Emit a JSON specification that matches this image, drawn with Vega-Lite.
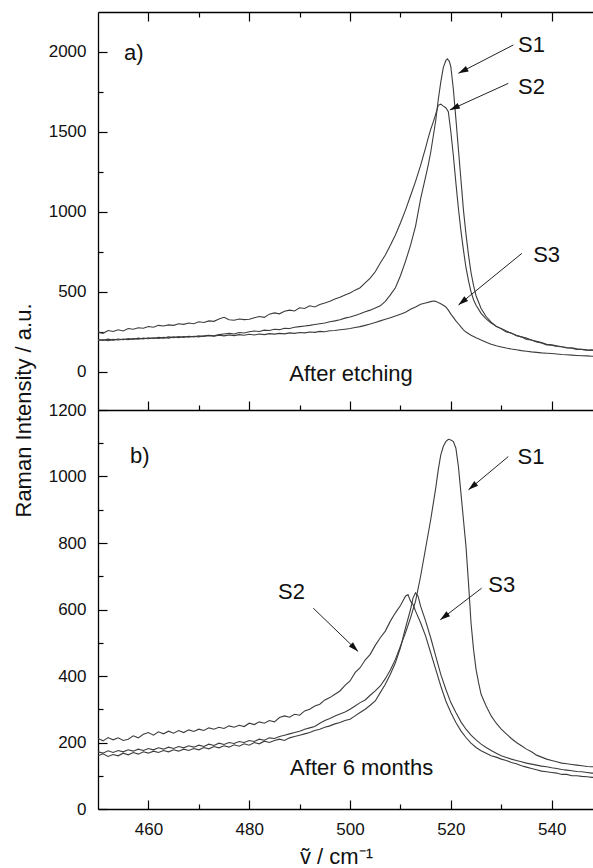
{
"$schema": "https://vega.github.io/schema/vega-lite/v6.json",
"padding": {"left": 12, "top": 11, "right": 0, "bottom": 0},
"bounds": "flush",
"spacing": 0,
"config": {
  "view": {"stroke": null},
  "font": "Liberation Sans",
  "axis": {"domainColor": "#000", "tickColor": "#000", "labelColor": "#111", "titleColor": "#111", "labelFont": "Liberation Sans", "titleFont": "Liberation Sans", "labelFontSize": 17, "grid": false, "domainWidth": 1.3, "tickWidth": 1.2, "titleFontWeight": "normal", "labelFlush": false, "labelOverlap": false}
},
"datasets": {
  "spectra": [
{"p":"a","s":"S2","x":450,"y":248},{"p":"a","s":"S2","x":451,"y":240},{"p":"a","s":"S2","x":452,"y":258},{"p":"a","s":"S2","x":453,"y":252},{"p":"a","s":"S2","x":454,"y":262},{"p":"a","s":"S2","x":455,"y":255},{"p":"a","s":"S2","x":456,"y":270},{"p":"a","s":"S2","x":457,"y":266},{"p":"a","s":"S2","x":458,"y":275},{"p":"a","s":"S2","x":459,"y":272},{"p":"a","s":"S2","x":460,"y":283},{"p":"a","s":"S2","x":461,"y":278},{"p":"a","s":"S2","x":462,"y":290},{"p":"a","s":"S2","x":463,"y":286},{"p":"a","s":"S2","x":464,"y":293},{"p":"a","s":"S2","x":465,"y":290},{"p":"a","s":"S2","x":466,"y":300},{"p":"a","s":"S2","x":467,"y":296},{"p":"a","s":"S2","x":468,"y":305},{"p":"a","s":"S2","x":469,"y":300},{"p":"a","s":"S2","x":470,"y":312},{"p":"a","s":"S2","x":471,"y":308},{"p":"a","s":"S2","x":472,"y":318},{"p":"a","s":"S2","x":473,"y":315},{"p":"a","s":"S2","x":474,"y":330},{"p":"a","s":"S2","x":475,"y":340},{"p":"a","s":"S2","x":476,"y":325},{"p":"a","s":"S2","x":477,"y":322},{"p":"a","s":"S2","x":478,"y":330},{"p":"a","s":"S2","x":479,"y":326},{"p":"a","s":"S2","x":480,"y":328},{"p":"a","s":"S2","x":481,"y":338},{"p":"a","s":"S2","x":482,"y":345},{"p":"a","s":"S2","x":483,"y":340},{"p":"a","s":"S2","x":484,"y":360},{"p":"a","s":"S2","x":485,"y":368},{"p":"a","s":"S2","x":486,"y":362},{"p":"a","s":"S2","x":487,"y":378},{"p":"a","s":"S2","x":488,"y":385},{"p":"a","s":"S2","x":489,"y":380},{"p":"a","s":"S2","x":490,"y":400},{"p":"a","s":"S2","x":491,"y":395},{"p":"a","s":"S2","x":492,"y":412},{"p":"a","s":"S2","x":493,"y":405},{"p":"a","s":"S2","x":494,"y":420},{"p":"a","s":"S2","x":495,"y":430},{"p":"a","s":"S2","x":496,"y":440},{"p":"a","s":"S2","x":497,"y":455},{"p":"a","s":"S2","x":498,"y":465},{"p":"a","s":"S2","x":499,"y":480},{"p":"a","s":"S2","x":500,"y":492},{"p":"a","s":"S2","x":501,"y":510},{"p":"a","s":"S2","x":502,"y":525},{"p":"a","s":"S2","x":503,"y":555},{"p":"a","s":"S2","x":504,"y":585},{"p":"a","s":"S2","x":505,"y":625},{"p":"a","s":"S2","x":506,"y":680},{"p":"a","s":"S2","x":507,"y":730},{"p":"a","s":"S2","x":508,"y":790},{"p":"a","s":"S2","x":509,"y":855},{"p":"a","s":"S2","x":510,"y":930},{"p":"a","s":"S2","x":511,"y":1010},{"p":"a","s":"S2","x":512,"y":1100},{"p":"a","s":"S2","x":513,"y":1190},{"p":"a","s":"S2","x":514,"y":1290},{"p":"a","s":"S2","x":515,"y":1400},{"p":"a","s":"S2","x":515.5,"y":1460},{"p":"a","s":"S2","x":516,"y":1515},{"p":"a","s":"S2","x":516.5,"y":1560},{"p":"a","s":"S2","x":517,"y":1610},{"p":"a","s":"S2","x":517.5,"y":1665},{"p":"a","s":"S2","x":518,"y":1672},{"p":"a","s":"S2","x":518.5,"y":1660},{"p":"a","s":"S2","x":519,"y":1650},{"p":"a","s":"S2","x":519.5,"y":1625},{"p":"a","s":"S2","x":520,"y":1500},{"p":"a","s":"S2","x":520.5,"y":1350},{"p":"a","s":"S2","x":521,"y":1180},{"p":"a","s":"S2","x":521.5,"y":1020},{"p":"a","s":"S2","x":522,"y":880},{"p":"a","s":"S2","x":522.5,"y":760},{"p":"a","s":"S2","x":523,"y":650},{"p":"a","s":"S2","x":523.5,"y":570},{"p":"a","s":"S2","x":524,"y":500},{"p":"a","s":"S2","x":524.5,"y":450},{"p":"a","s":"S2","x":525,"y":415},{"p":"a","s":"S2","x":526,"y":365},{"p":"a","s":"S2","x":527,"y":330},{"p":"a","s":"S2","x":528,"y":305},{"p":"a","s":"S2","x":529,"y":285},{"p":"a","s":"S2","x":530,"y":268},{"p":"a","s":"S2","x":531,"y":248},{"p":"a","s":"S2","x":532,"y":242},{"p":"a","s":"S2","x":533,"y":225},{"p":"a","s":"S2","x":534,"y":218},{"p":"a","s":"S2","x":535,"y":202},{"p":"a","s":"S2","x":536,"y":198},{"p":"a","s":"S2","x":537,"y":186},{"p":"a","s":"S2","x":538,"y":180},{"p":"a","s":"S2","x":539,"y":168},{"p":"a","s":"S2","x":540,"y":166},{"p":"a","s":"S2","x":541,"y":158},{"p":"a","s":"S2","x":542,"y":156},{"p":"a","s":"S2","x":543,"y":148},{"p":"a","s":"S2","x":544,"y":147},{"p":"a","s":"S2","x":545,"y":140},{"p":"a","s":"S2","x":546,"y":139},{"p":"a","s":"S2","x":547,"y":134},{"p":"a","s":"S2","x":548,"y":136},{"p":"a","s":"S2","x":548.2,"y":134},
{"p":"a","s":"S1","x":450,"y":196},{"p":"a","s":"S1","x":451,"y":200},{"p":"a","s":"S1","x":452,"y":194},{"p":"a","s":"S1","x":453,"y":202},{"p":"a","s":"S1","x":454,"y":198},{"p":"a","s":"S1","x":455,"y":204},{"p":"a","s":"S1","x":456,"y":200},{"p":"a","s":"S1","x":457,"y":207},{"p":"a","s":"S1","x":458,"y":203},{"p":"a","s":"S1","x":459,"y":210},{"p":"a","s":"S1","x":460,"y":206},{"p":"a","s":"S1","x":461,"y":212},{"p":"a","s":"S1","x":462,"y":208},{"p":"a","s":"S1","x":463,"y":215},{"p":"a","s":"S1","x":464,"y":210},{"p":"a","s":"S1","x":465,"y":218},{"p":"a","s":"S1","x":466,"y":213},{"p":"a","s":"S1","x":467,"y":220},{"p":"a","s":"S1","x":468,"y":216},{"p":"a","s":"S1","x":469,"y":222},{"p":"a","s":"S1","x":470,"y":218},{"p":"a","s":"S1","x":471,"y":225},{"p":"a","s":"S1","x":472,"y":228},{"p":"a","s":"S1","x":473,"y":224},{"p":"a","s":"S1","x":474,"y":232},{"p":"a","s":"S1","x":475,"y":236},{"p":"a","s":"S1","x":476,"y":240},{"p":"a","s":"S1","x":477,"y":236},{"p":"a","s":"S1","x":478,"y":245},{"p":"a","s":"S1","x":479,"y":242},{"p":"a","s":"S1","x":480,"y":250},{"p":"a","s":"S1","x":481,"y":255},{"p":"a","s":"S1","x":482,"y":252},{"p":"a","s":"S1","x":483,"y":260},{"p":"a","s":"S1","x":484,"y":258},{"p":"a","s":"S1","x":485,"y":266},{"p":"a","s":"S1","x":486,"y":263},{"p":"a","s":"S1","x":487,"y":272},{"p":"a","s":"S1","x":488,"y":270},{"p":"a","s":"S1","x":489,"y":278},{"p":"a","s":"S1","x":490,"y":282},{"p":"a","s":"S1","x":491,"y":286},{"p":"a","s":"S1","x":492,"y":290},{"p":"a","s":"S1","x":493,"y":295},{"p":"a","s":"S1","x":494,"y":300},{"p":"a","s":"S1","x":495,"y":305},{"p":"a","s":"S1","x":496,"y":312},{"p":"a","s":"S1","x":497,"y":318},{"p":"a","s":"S1","x":498,"y":325},{"p":"a","s":"S1","x":499,"y":335},{"p":"a","s":"S1","x":500,"y":342},{"p":"a","s":"S1","x":501,"y":352},{"p":"a","s":"S1","x":502,"y":362},{"p":"a","s":"S1","x":503,"y":375},{"p":"a","s":"S1","x":504,"y":385},{"p":"a","s":"S1","x":505,"y":398},{"p":"a","s":"S1","x":506,"y":412},{"p":"a","s":"S1","x":507,"y":440},{"p":"a","s":"S1","x":508,"y":480},{"p":"a","s":"S1","x":509,"y":525},{"p":"a","s":"S1","x":510,"y":600},{"p":"a","s":"S1","x":511,"y":690},{"p":"a","s":"S1","x":512,"y":790},{"p":"a","s":"S1","x":513,"y":910},{"p":"a","s":"S1","x":514,"y":1080},{"p":"a","s":"S1","x":515,"y":1220},{"p":"a","s":"S1","x":515.5,"y":1290},{"p":"a","s":"S1","x":516,"y":1370},{"p":"a","s":"S1","x":516.5,"y":1470},{"p":"a","s":"S1","x":517,"y":1570},{"p":"a","s":"S1","x":517.5,"y":1700},{"p":"a","s":"S1","x":518,"y":1810},{"p":"a","s":"S1","x":518.5,"y":1900},{"p":"a","s":"S1","x":519,"y":1945},{"p":"a","s":"S1","x":519.3,"y":1955},{"p":"a","s":"S1","x":519.7,"y":1940},{"p":"a","s":"S1","x":520,"y":1905},{"p":"a","s":"S1","x":520.5,"y":1765},{"p":"a","s":"S1","x":521,"y":1580},{"p":"a","s":"S1","x":521.5,"y":1390},{"p":"a","s":"S1","x":522,"y":1200},{"p":"a","s":"S1","x":522.5,"y":1010},{"p":"a","s":"S1","x":523,"y":860},{"p":"a","s":"S1","x":523.5,"y":730},{"p":"a","s":"S1","x":524,"y":620},{"p":"a","s":"S1","x":524.5,"y":540},{"p":"a","s":"S1","x":525,"y":475},{"p":"a","s":"S1","x":526,"y":395},{"p":"a","s":"S1","x":527,"y":345},{"p":"a","s":"S1","x":528,"y":310},{"p":"a","s":"S1","x":529,"y":283},{"p":"a","s":"S1","x":530,"y":270},{"p":"a","s":"S1","x":531,"y":255},{"p":"a","s":"S1","x":532,"y":240},{"p":"a","s":"S1","x":533,"y":228},{"p":"a","s":"S1","x":534,"y":218},{"p":"a","s":"S1","x":535,"y":210},{"p":"a","s":"S1","x":536,"y":198},{"p":"a","s":"S1","x":537,"y":190},{"p":"a","s":"S1","x":538,"y":182},{"p":"a","s":"S1","x":539,"y":172},{"p":"a","s":"S1","x":540,"y":168},{"p":"a","s":"S1","x":541,"y":163},{"p":"a","s":"S1","x":542,"y":156},{"p":"a","s":"S1","x":543,"y":152},{"p":"a","s":"S1","x":544,"y":150},{"p":"a","s":"S1","x":545,"y":143},{"p":"a","s":"S1","x":546,"y":140},{"p":"a","s":"S1","x":547,"y":137},{"p":"a","s":"S1","x":548,"y":135},{"p":"a","s":"S1","x":548.2,"y":135},
{"p":"a","s":"S3","x":450,"y":202},{"p":"a","s":"S3","x":451,"y":196},{"p":"a","s":"S3","x":452,"y":204},{"p":"a","s":"S3","x":453,"y":198},{"p":"a","s":"S3","x":454,"y":205},{"p":"a","s":"S3","x":455,"y":200},{"p":"a","s":"S3","x":456,"y":207},{"p":"a","s":"S3","x":457,"y":203},{"p":"a","s":"S3","x":458,"y":210},{"p":"a","s":"S3","x":459,"y":205},{"p":"a","s":"S3","x":460,"y":212},{"p":"a","s":"S3","x":461,"y":208},{"p":"a","s":"S3","x":462,"y":215},{"p":"a","s":"S3","x":463,"y":210},{"p":"a","s":"S3","x":464,"y":218},{"p":"a","s":"S3","x":465,"y":213},{"p":"a","s":"S3","x":466,"y":220},{"p":"a","s":"S3","x":467,"y":215},{"p":"a","s":"S3","x":468,"y":222},{"p":"a","s":"S3","x":469,"y":218},{"p":"a","s":"S3","x":470,"y":224},{"p":"a","s":"S3","x":471,"y":220},{"p":"a","s":"S3","x":472,"y":226},{"p":"a","s":"S3","x":473,"y":222},{"p":"a","s":"S3","x":474,"y":228},{"p":"a","s":"S3","x":475,"y":224},{"p":"a","s":"S3","x":476,"y":230},{"p":"a","s":"S3","x":477,"y":226},{"p":"a","s":"S3","x":478,"y":232},{"p":"a","s":"S3","x":479,"y":228},{"p":"a","s":"S3","x":480,"y":234},{"p":"a","s":"S3","x":481,"y":230},{"p":"a","s":"S3","x":482,"y":236},{"p":"a","s":"S3","x":483,"y":232},{"p":"a","s":"S3","x":484,"y":238},{"p":"a","s":"S3","x":485,"y":235},{"p":"a","s":"S3","x":486,"y":240},{"p":"a","s":"S3","x":487,"y":237},{"p":"a","s":"S3","x":488,"y":243},{"p":"a","s":"S3","x":489,"y":240},{"p":"a","s":"S3","x":490,"y":245},{"p":"a","s":"S3","x":491,"y":243},{"p":"a","s":"S3","x":492,"y":248},{"p":"a","s":"S3","x":493,"y":246},{"p":"a","s":"S3","x":494,"y":252},{"p":"a","s":"S3","x":495,"y":250},{"p":"a","s":"S3","x":496,"y":256},{"p":"a","s":"S3","x":497,"y":258},{"p":"a","s":"S3","x":498,"y":262},{"p":"a","s":"S3","x":499,"y":266},{"p":"a","s":"S3","x":500,"y":270},{"p":"a","s":"S3","x":501,"y":276},{"p":"a","s":"S3","x":502,"y":282},{"p":"a","s":"S3","x":503,"y":290},{"p":"a","s":"S3","x":504,"y":298},{"p":"a","s":"S3","x":505,"y":308},{"p":"a","s":"S3","x":506,"y":318},{"p":"a","s":"S3","x":507,"y":328},{"p":"a","s":"S3","x":508,"y":338},{"p":"a","s":"S3","x":509,"y":348},{"p":"a","s":"S3","x":510,"y":360},{"p":"a","s":"S3","x":511,"y":372},{"p":"a","s":"S3","x":512,"y":390},{"p":"a","s":"S3","x":513,"y":405},{"p":"a","s":"S3","x":514,"y":422},{"p":"a","s":"S3","x":515,"y":430},{"p":"a","s":"S3","x":516,"y":438},{"p":"a","s":"S3","x":516.5,"y":442},{"p":"a","s":"S3","x":517,"y":440},{"p":"a","s":"S3","x":517.5,"y":432},{"p":"a","s":"S3","x":518,"y":425},{"p":"a","s":"S3","x":518.5,"y":415},{"p":"a","s":"S3","x":519,"y":405},{"p":"a","s":"S3","x":519.5,"y":385},{"p":"a","s":"S3","x":520,"y":360},{"p":"a","s":"S3","x":520.5,"y":340},{"p":"a","s":"S3","x":521,"y":318},{"p":"a","s":"S3","x":521.5,"y":300},{"p":"a","s":"S3","x":522,"y":280},{"p":"a","s":"S3","x":522.5,"y":262},{"p":"a","s":"S3","x":523,"y":248},{"p":"a","s":"S3","x":524,"y":228},{"p":"a","s":"S3","x":525,"y":212},{"p":"a","s":"S3","x":526,"y":198},{"p":"a","s":"S3","x":527,"y":185},{"p":"a","s":"S3","x":528,"y":172},{"p":"a","s":"S3","x":529,"y":162},{"p":"a","s":"S3","x":530,"y":155},{"p":"a","s":"S3","x":531,"y":148},{"p":"a","s":"S3","x":532,"y":142},{"p":"a","s":"S3","x":533,"y":137},{"p":"a","s":"S3","x":534,"y":132},{"p":"a","s":"S3","x":535,"y":128},{"p":"a","s":"S3","x":536,"y":124},{"p":"a","s":"S3","x":537,"y":121},{"p":"a","s":"S3","x":538,"y":118},{"p":"a","s":"S3","x":539,"y":116},{"p":"a","s":"S3","x":540,"y":114},{"p":"a","s":"S3","x":541,"y":111},{"p":"a","s":"S3","x":542,"y":108},{"p":"a","s":"S3","x":543,"y":106},{"p":"a","s":"S3","x":544,"y":104},{"p":"a","s":"S3","x":545,"y":102},{"p":"a","s":"S3","x":546,"y":100},{"p":"a","s":"S3","x":547,"y":99},{"p":"a","s":"S3","x":548,"y":97},{"p":"a","s":"S3","x":548.2,"y":97},
{"p":"b","s":"S2","x":450,"y":212},{"p":"b","s":"S2","x":451,"y":205},{"p":"b","s":"S2","x":452,"y":215},{"p":"b","s":"S2","x":453,"y":208},{"p":"b","s":"S2","x":454,"y":214},{"p":"b","s":"S2","x":455,"y":206},{"p":"b","s":"S2","x":456,"y":210},{"p":"b","s":"S2","x":457,"y":220},{"p":"b","s":"S2","x":458,"y":214},{"p":"b","s":"S2","x":459,"y":225},{"p":"b","s":"S2","x":460,"y":230},{"p":"b","s":"S2","x":461,"y":222},{"p":"b","s":"S2","x":462,"y":232},{"p":"b","s":"S2","x":463,"y":226},{"p":"b","s":"S2","x":464,"y":234},{"p":"b","s":"S2","x":465,"y":228},{"p":"b","s":"S2","x":466,"y":236},{"p":"b","s":"S2","x":467,"y":230},{"p":"b","s":"S2","x":468,"y":238},{"p":"b","s":"S2","x":469,"y":233},{"p":"b","s":"S2","x":470,"y":240},{"p":"b","s":"S2","x":471,"y":236},{"p":"b","s":"S2","x":472,"y":244},{"p":"b","s":"S2","x":473,"y":240},{"p":"b","s":"S2","x":474,"y":246},{"p":"b","s":"S2","x":475,"y":242},{"p":"b","s":"S2","x":476,"y":250},{"p":"b","s":"S2","x":477,"y":246},{"p":"b","s":"S2","x":478,"y":252},{"p":"b","s":"S2","x":479,"y":248},{"p":"b","s":"S2","x":480,"y":258},{"p":"b","s":"S2","x":481,"y":254},{"p":"b","s":"S2","x":482,"y":262},{"p":"b","s":"S2","x":483,"y":258},{"p":"b","s":"S2","x":484,"y":266},{"p":"b","s":"S2","x":485,"y":262},{"p":"b","s":"S2","x":486,"y":275},{"p":"b","s":"S2","x":487,"y":280},{"p":"b","s":"S2","x":488,"y":276},{"p":"b","s":"S2","x":489,"y":285},{"p":"b","s":"S2","x":490,"y":282},{"p":"b","s":"S2","x":491,"y":295},{"p":"b","s":"S2","x":492,"y":300},{"p":"b","s":"S2","x":493,"y":310},{"p":"b","s":"S2","x":494,"y":315},{"p":"b","s":"S2","x":495,"y":328},{"p":"b","s":"S2","x":496,"y":335},{"p":"b","s":"S2","x":497,"y":345},{"p":"b","s":"S2","x":498,"y":355},{"p":"b","s":"S2","x":499,"y":372},{"p":"b","s":"S2","x":500,"y":385},{"p":"b","s":"S2","x":501,"y":410},{"p":"b","s":"S2","x":502,"y":425},{"p":"b","s":"S2","x":503,"y":448},{"p":"b","s":"S2","x":504,"y":465},{"p":"b","s":"S2","x":505,"y":492},{"p":"b","s":"S2","x":506,"y":515},{"p":"b","s":"S2","x":507,"y":535},{"p":"b","s":"S2","x":508,"y":565},{"p":"b","s":"S2","x":509,"y":590},{"p":"b","s":"S2","x":510,"y":612},{"p":"b","s":"S2","x":511,"y":640},{"p":"b","s":"S2","x":511.5,"y":645},{"p":"b","s":"S2","x":512,"y":625},{"p":"b","s":"S2","x":512.5,"y":615},{"p":"b","s":"S2","x":513,"y":595},{"p":"b","s":"S2","x":514,"y":560},{"p":"b","s":"S2","x":515,"y":520},{"p":"b","s":"S2","x":516,"y":470},{"p":"b","s":"S2","x":517,"y":420},{"p":"b","s":"S2","x":518,"y":370},{"p":"b","s":"S2","x":519,"y":325},{"p":"b","s":"S2","x":520,"y":290},{"p":"b","s":"S2","x":521,"y":260},{"p":"b","s":"S2","x":522,"y":235},{"p":"b","s":"S2","x":523,"y":215},{"p":"b","s":"S2","x":524,"y":198},{"p":"b","s":"S2","x":525,"y":185},{"p":"b","s":"S2","x":526,"y":175},{"p":"b","s":"S2","x":527,"y":168},{"p":"b","s":"S2","x":528,"y":160},{"p":"b","s":"S2","x":529,"y":156},{"p":"b","s":"S2","x":530,"y":150},{"p":"b","s":"S2","x":531,"y":146},{"p":"b","s":"S2","x":532,"y":140},{"p":"b","s":"S2","x":533,"y":136},{"p":"b","s":"S2","x":534,"y":130},{"p":"b","s":"S2","x":535,"y":126},{"p":"b","s":"S2","x":536,"y":122},{"p":"b","s":"S2","x":537,"y":118},{"p":"b","s":"S2","x":538,"y":114},{"p":"b","s":"S2","x":539,"y":112},{"p":"b","s":"S2","x":540,"y":110},{"p":"b","s":"S2","x":541,"y":108},{"p":"b","s":"S2","x":542,"y":104},{"p":"b","s":"S2","x":543,"y":104},{"p":"b","s":"S2","x":544,"y":100},{"p":"b","s":"S2","x":545,"y":100},{"p":"b","s":"S2","x":546,"y":98},{"p":"b","s":"S2","x":547,"y":97},{"p":"b","s":"S2","x":548,"y":95},{"p":"b","s":"S2","x":548.2,"y":95},
{"p":"b","s":"S1","x":450,"y":172},{"p":"b","s":"S1","x":451,"y":168},{"p":"b","s":"S1","x":452,"y":175},{"p":"b","s":"S1","x":453,"y":170},{"p":"b","s":"S1","x":454,"y":176},{"p":"b","s":"S1","x":455,"y":172},{"p":"b","s":"S1","x":456,"y":178},{"p":"b","s":"S1","x":457,"y":174},{"p":"b","s":"S1","x":458,"y":180},{"p":"b","s":"S1","x":459,"y":176},{"p":"b","s":"S1","x":460,"y":182},{"p":"b","s":"S1","x":461,"y":178},{"p":"b","s":"S1","x":462,"y":184},{"p":"b","s":"S1","x":463,"y":180},{"p":"b","s":"S1","x":464,"y":186},{"p":"b","s":"S1","x":465,"y":182},{"p":"b","s":"S1","x":466,"y":188},{"p":"b","s":"S1","x":467,"y":184},{"p":"b","s":"S1","x":468,"y":190},{"p":"b","s":"S1","x":469,"y":186},{"p":"b","s":"S1","x":470,"y":192},{"p":"b","s":"S1","x":471,"y":188},{"p":"b","s":"S1","x":472,"y":195},{"p":"b","s":"S1","x":473,"y":191},{"p":"b","s":"S1","x":474,"y":198},{"p":"b","s":"S1","x":475,"y":194},{"p":"b","s":"S1","x":476,"y":200},{"p":"b","s":"S1","x":477,"y":197},{"p":"b","s":"S1","x":478,"y":203},{"p":"b","s":"S1","x":479,"y":200},{"p":"b","s":"S1","x":480,"y":206},{"p":"b","s":"S1","x":481,"y":203},{"p":"b","s":"S1","x":482,"y":210},{"p":"b","s":"S1","x":483,"y":207},{"p":"b","s":"S1","x":484,"y":214},{"p":"b","s":"S1","x":485,"y":212},{"p":"b","s":"S1","x":486,"y":218},{"p":"b","s":"S1","x":487,"y":222},{"p":"b","s":"S1","x":488,"y":226},{"p":"b","s":"S1","x":489,"y":230},{"p":"b","s":"S1","x":490,"y":234},{"p":"b","s":"S1","x":491,"y":240},{"p":"b","s":"S1","x":492,"y":244},{"p":"b","s":"S1","x":493,"y":248},{"p":"b","s":"S1","x":494,"y":258},{"p":"b","s":"S1","x":495,"y":266},{"p":"b","s":"S1","x":496,"y":272},{"p":"b","s":"S1","x":497,"y":280},{"p":"b","s":"S1","x":498,"y":286},{"p":"b","s":"S1","x":499,"y":292},{"p":"b","s":"S1","x":500,"y":300},{"p":"b","s":"S1","x":501,"y":310},{"p":"b","s":"S1","x":502,"y":320},{"p":"b","s":"S1","x":503,"y":328},{"p":"b","s":"S1","x":504,"y":342},{"p":"b","s":"S1","x":505,"y":355},{"p":"b","s":"S1","x":506,"y":370},{"p":"b","s":"S1","x":507,"y":392},{"p":"b","s":"S1","x":508,"y":418},{"p":"b","s":"S1","x":509,"y":450},{"p":"b","s":"S1","x":510,"y":490},{"p":"b","s":"S1","x":511,"y":530},{"p":"b","s":"S1","x":512,"y":575},{"p":"b","s":"S1","x":513,"y":625},{"p":"b","s":"S1","x":514,"y":700},{"p":"b","s":"S1","x":515,"y":785},{"p":"b","s":"S1","x":516,"y":870},{"p":"b","s":"S1","x":517,"y":965},{"p":"b","s":"S1","x":517.5,"y":1020},{"p":"b","s":"S1","x":518,"y":1065},{"p":"b","s":"S1","x":518.5,"y":1090},{"p":"b","s":"S1","x":519,"y":1105},{"p":"b","s":"S1","x":519.5,"y":1112},{"p":"b","s":"S1","x":520,"y":1110},{"p":"b","s":"S1","x":520.5,"y":1105},{"p":"b","s":"S1","x":521,"y":1085},{"p":"b","s":"S1","x":521.5,"y":1030},{"p":"b","s":"S1","x":522,"y":950},{"p":"b","s":"S1","x":522.5,"y":870},{"p":"b","s":"S1","x":523,"y":790},{"p":"b","s":"S1","x":523.5,"y":680},{"p":"b","s":"S1","x":524,"y":560},{"p":"b","s":"S1","x":524.5,"y":480},{"p":"b","s":"S1","x":525,"y":420},{"p":"b","s":"S1","x":525.5,"y":380},{"p":"b","s":"S1","x":526,"y":345},{"p":"b","s":"S1","x":527,"y":310},{"p":"b","s":"S1","x":528,"y":280},{"p":"b","s":"S1","x":529,"y":258},{"p":"b","s":"S1","x":530,"y":240},{"p":"b","s":"S1","x":531,"y":226},{"p":"b","s":"S1","x":532,"y":212},{"p":"b","s":"S1","x":533,"y":200},{"p":"b","s":"S1","x":534,"y":190},{"p":"b","s":"S1","x":535,"y":180},{"p":"b","s":"S1","x":536,"y":172},{"p":"b","s":"S1","x":537,"y":162},{"p":"b","s":"S1","x":538,"y":156},{"p":"b","s":"S1","x":539,"y":150},{"p":"b","s":"S1","x":540,"y":146},{"p":"b","s":"S1","x":541,"y":142},{"p":"b","s":"S1","x":542,"y":138},{"p":"b","s":"S1","x":543,"y":136},{"p":"b","s":"S1","x":544,"y":134},{"p":"b","s":"S1","x":545,"y":132},{"p":"b","s":"S1","x":546,"y":130},{"p":"b","s":"S1","x":547,"y":128},{"p":"b","s":"S1","x":548,"y":127},{"p":"b","s":"S1","x":548.2,"y":127},
{"p":"b","s":"S3","x":450,"y":160},{"p":"b","s":"S3","x":451,"y":166},{"p":"b","s":"S3","x":452,"y":158},{"p":"b","s":"S3","x":453,"y":164},{"p":"b","s":"S3","x":454,"y":160},{"p":"b","s":"S3","x":455,"y":168},{"p":"b","s":"S3","x":456,"y":163},{"p":"b","s":"S3","x":457,"y":170},{"p":"b","s":"S3","x":458,"y":165},{"p":"b","s":"S3","x":459,"y":172},{"p":"b","s":"S3","x":460,"y":168},{"p":"b","s":"S3","x":461,"y":174},{"p":"b","s":"S3","x":462,"y":170},{"p":"b","s":"S3","x":463,"y":176},{"p":"b","s":"S3","x":464,"y":172},{"p":"b","s":"S3","x":465,"y":178},{"p":"b","s":"S3","x":466,"y":174},{"p":"b","s":"S3","x":467,"y":180},{"p":"b","s":"S3","x":468,"y":176},{"p":"b","s":"S3","x":469,"y":182},{"p":"b","s":"S3","x":470,"y":178},{"p":"b","s":"S3","x":471,"y":185},{"p":"b","s":"S3","x":472,"y":181},{"p":"b","s":"S3","x":473,"y":188},{"p":"b","s":"S3","x":474,"y":184},{"p":"b","s":"S3","x":475,"y":190},{"p":"b","s":"S3","x":476,"y":186},{"p":"b","s":"S3","x":477,"y":193},{"p":"b","s":"S3","x":478,"y":189},{"p":"b","s":"S3","x":479,"y":196},{"p":"b","s":"S3","x":480,"y":192},{"p":"b","s":"S3","x":481,"y":200},{"p":"b","s":"S3","x":482,"y":196},{"p":"b","s":"S3","x":483,"y":204},{"p":"b","s":"S3","x":484,"y":200},{"p":"b","s":"S3","x":485,"y":206},{"p":"b","s":"S3","x":486,"y":210},{"p":"b","s":"S3","x":487,"y":206},{"p":"b","s":"S3","x":488,"y":214},{"p":"b","s":"S3","x":489,"y":218},{"p":"b","s":"S3","x":490,"y":222},{"p":"b","s":"S3","x":491,"y":226},{"p":"b","s":"S3","x":492,"y":230},{"p":"b","s":"S3","x":493,"y":236},{"p":"b","s":"S3","x":494,"y":240},{"p":"b","s":"S3","x":495,"y":246},{"p":"b","s":"S3","x":496,"y":250},{"p":"b","s":"S3","x":497,"y":256},{"p":"b","s":"S3","x":498,"y":260},{"p":"b","s":"S3","x":499,"y":266},{"p":"b","s":"S3","x":500,"y":270},{"p":"b","s":"S3","x":501,"y":280},{"p":"b","s":"S3","x":502,"y":290},{"p":"b","s":"S3","x":503,"y":300},{"p":"b","s":"S3","x":504,"y":312},{"p":"b","s":"S3","x":505,"y":325},{"p":"b","s":"S3","x":506,"y":350},{"p":"b","s":"S3","x":507,"y":375},{"p":"b","s":"S3","x":508,"y":405},{"p":"b","s":"S3","x":509,"y":440},{"p":"b","s":"S3","x":510,"y":485},{"p":"b","s":"S3","x":511,"y":545},{"p":"b","s":"S3","x":512,"y":600},{"p":"b","s":"S3","x":512.5,"y":635},{"p":"b","s":"S3","x":513,"y":650},{"p":"b","s":"S3","x":513.5,"y":640},{"p":"b","s":"S3","x":514,"y":610},{"p":"b","s":"S3","x":515,"y":565},{"p":"b","s":"S3","x":516,"y":515},{"p":"b","s":"S3","x":517,"y":460},{"p":"b","s":"S3","x":518,"y":405},{"p":"b","s":"S3","x":519,"y":360},{"p":"b","s":"S3","x":520,"y":320},{"p":"b","s":"S3","x":521,"y":290},{"p":"b","s":"S3","x":522,"y":262},{"p":"b","s":"S3","x":523,"y":240},{"p":"b","s":"S3","x":524,"y":222},{"p":"b","s":"S3","x":525,"y":208},{"p":"b","s":"S3","x":526,"y":195},{"p":"b","s":"S3","x":527,"y":185},{"p":"b","s":"S3","x":528,"y":176},{"p":"b","s":"S3","x":529,"y":168},{"p":"b","s":"S3","x":530,"y":160},{"p":"b","s":"S3","x":531,"y":155},{"p":"b","s":"S3","x":532,"y":150},{"p":"b","s":"S3","x":533,"y":146},{"p":"b","s":"S3","x":534,"y":142},{"p":"b","s":"S3","x":535,"y":138},{"p":"b","s":"S3","x":536,"y":135},{"p":"b","s":"S3","x":537,"y":132},{"p":"b","s":"S3","x":538,"y":129},{"p":"b","s":"S3","x":539,"y":127},{"p":"b","s":"S3","x":540,"y":124},{"p":"b","s":"S3","x":541,"y":122},{"p":"b","s":"S3","x":542,"y":119},{"p":"b","s":"S3","x":543,"y":117},{"p":"b","s":"S3","x":544,"y":115},{"p":"b","s":"S3","x":545,"y":113},{"p":"b","s":"S3","x":546,"y":112},{"p":"b","s":"S3","x":547,"y":110},{"p":"b","s":"S3","x":548,"y":108},{"p":"b","s":"S3","x":548.2,"y":108}
  ],
  "labels": [
    {"p":"a","t":"S1","x":536,"y":2042},
    {"p":"a","t":"S2","x":536,"y":1781},
    {"p":"a","t":"S3","x":539,"y":729},
    {"p":"a","t":"a)","x":457.1,"y":1989},
    {"p":"a","t":"After etching","x":500.2,"y":-15},
    {"p":"b","t":"S1","x":535.9,"y":1060},
    {"p":"b","t":"S3","x":530.1,"y":674},
    {"p":"b","t":"S2","x":488.4,"y":654},
    {"p":"b","t":"b)","x":458.3,"y":1062},
    {"p":"b","t":"After 6 months","x":502.3,"y":124}
  ],
  "arrows": [
    {"p":"a","x":532.4,"y":2042,"x2":521.5,"y2":1865,"dir":242.8},
    {"p":"a","x":531.4,"y":1802,"x2":519.8,"y2":1636,"dir":245.4},
    {"p":"a","x":534.1,"y":740,"x2":521.5,"y2":417,"dir":230.8},
    {"p":"b","x":531.4,"y":1060,"x2":523.5,"y2":960,"dir":230.2},
    {"p":"b","x":526.1,"y":664,"x2":517.9,"y2":569,"dir":232.8},
    {"p":"b","x":492.7,"y":604,"x2":501.6,"y2":474,"dir":134}
  ]
},
"vconcat": [
  {
    "width": 495,
    "height": 398,
    "resolve": {"axis": {"x": "independent", "y": "independent"}},
    "layer": [
      {
        "data": {"name": "spectra"},
        "transform": [{"filter": "datum.p === 'a'"}],
        "mark": {"type": "line", "color": "#3c3c3c", "strokeWidth": 1.1, "clip": true},
        "encoding": {
          "x": {"field": "x", "type": "quantitative", "scale": {"domain": [450, 548.2], "nice": false, "zero": false},
                "axis": {"orient": "bottom", "values": [460,470,480,490,500,510,520,530,540], "labels": false, "title": null,
                         "tickSize": {"condition": {"test": "datum.value % 20 != 0", "value": -5}, "value": -9}}},
          "y": {"field": "y", "type": "quantitative", "scale": {"domain": [-239, 2248], "nice": false, "zero": false},
                "axis": {"orient": "left", "values": [0,500,1000,1500,2000], "format": "d", "tickSize": -9, "labelPadding": 21,
                         "title": "Raman Intensity / a.u.", "titleFontSize": 22, "titleX": -63, "titleY": 398}},
          "detail": {"field": "s"}
        }
      },
      {
        "data": {"name": "labels"},
        "transform": [{"filter": "datum.p === 'a'"}],
        "mark": {"type": "text", "font": "Liberation Sans", "fontSize": 22, "color": "#111", "align": "center", "baseline": "middle"},
        "encoding": {
          "x": {"field": "x", "type": "quantitative",
                "axis": {"orient": "top", "values": [460,470,480,490,500,510,520,530,540], "labels": false, "title": null,
                         "tickSize": {"condition": {"test": "datum.value % 20 != 0", "value": -5}, "value": -9}}},
          "y": {"field": "y", "type": "quantitative",
                "axis": {"orient": "left", "values": [250,750,1250,1750], "labels": false, "domain": false, "title": null, "tickSize": -5}},
          "text": {"field": "t"}
        }
      },
      {
        "data": {"name": "arrows"},
        "transform": [{"filter": "datum.p === 'a'"}],
        "mark": {"type": "rule", "color": "#222", "strokeWidth": 1},
        "encoding": {
          "x": {"field": "x", "type": "quantitative", "axis": null},
          "y": {"field": "y", "type": "quantitative", "axis": null},
          "x2": {"field": "x2"},
          "y2": {"field": "y2"}
        }
      },
      {
        "data": {"name": "arrows"},
        "transform": [{"filter": "datum.p === 'a'"}],
        "mark": {"type": "point", "shape": "M0,0 L0.6,2 L-0.6,2 Z", "filled": true, "color": "#111", "opacity": 1, "size": 100},
        "encoding": {
          "x": {"field": "x2", "type": "quantitative", "axis": null},
          "y": {"field": "y2", "type": "quantitative", "axis": null},
          "angle": {"field": "dir", "type": "quantitative", "scale": null}
        }
      }
    ]
  },
  {
    "width": 495,
    "height": 399,
    "resolve": {"axis": {"x": "independent", "y": "independent"}},
    "layer": [
      {
        "data": {"name": "spectra"},
        "transform": [{"filter": "datum.p === 'b'"}],
        "mark": {"type": "line", "color": "#3c3c3c", "strokeWidth": 1.1, "clip": true},
        "encoding": {
          "x": {"field": "x", "type": "quantitative", "scale": {"domain": [450, 548.2], "nice": false, "zero": false},
                "axis": {"orient": "bottom", "values": [460,480,500,520,540], "format": "d", "tickSize": -9, "labelPadding": 21,
                         "title": "ṽ / cm⁻¹", "titleFontSize": 22, "titlePadding": 9, "titleX": 238}},
          "y": {"field": "y", "type": "quantitative", "scale": {"domain": [0, 1200], "nice": false, "zero": false},
                "axis": {"orient": "left", "values": [0,200,400,600,800,1000,1200], "format": "d", "tickSize": -9, "labelPadding": 21, "title": null}},
          "detail": {"field": "s"}
        }
      },
      {
        "data": {"name": "labels"},
        "transform": [{"filter": "datum.p === 'b'"}],
        "mark": {"type": "text", "font": "Liberation Sans", "fontSize": 22, "color": "#111", "align": "center", "baseline": "middle"},
        "encoding": {
          "x": {"field": "x", "type": "quantitative",
                "axis": {"orient": "bottom", "values": [470,490,510,530], "labels": false, "domain": false, "title": null, "tickSize": -5}},
          "y": {"field": "y", "type": "quantitative",
                "axis": {"orient": "left", "values": [100,300,500,700,900,1100], "labels": false, "domain": false, "title": null, "tickSize": -5}},
          "text": {"field": "t"}
        }
      },
      {
        "data": {"name": "arrows"},
        "transform": [{"filter": "datum.p === 'b'"}],
        "mark": {"type": "rule", "color": "#222", "strokeWidth": 1},
        "encoding": {
          "x": {"field": "x", "type": "quantitative", "axis": null},
          "y": {"field": "y", "type": "quantitative", "axis": null},
          "x2": {"field": "x2"},
          "y2": {"field": "y2"}
        }
      },
      {
        "data": {"name": "arrows"},
        "transform": [{"filter": "datum.p === 'b'"}],
        "mark": {"type": "point", "shape": "M0,0 L0.6,2 L-0.6,2 Z", "filled": true, "color": "#111", "opacity": 1, "size": 100},
        "encoding": {
          "x": {"field": "x2", "type": "quantitative", "axis": null},
          "y": {"field": "y2", "type": "quantitative", "axis": null},
          "angle": {"field": "dir", "type": "quantitative", "scale": null}
        }
      }
    ]
  }
]
}
